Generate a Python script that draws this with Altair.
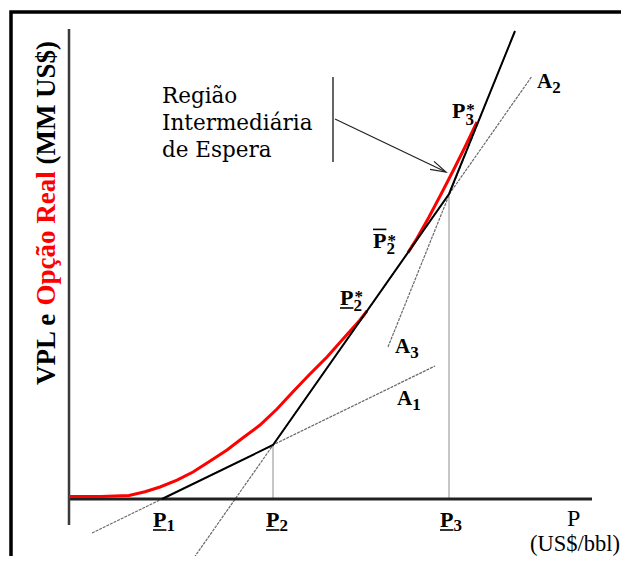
import altair as alt
import pandas as pd

# ---------------- values ----------------
# P = price (US$/bbl, arbitrary units), V = value (MM US$, arbitrary units)

# Real option curve (red) - two visible pieces (it coincides with A2 in between)
opt_low_P = [0, 8, 15, 19, 22.75, 27, 31, 35, 39.5, 43.5, 47.75, 52, 56, 60, 64.5, 68.5, 72.75, 74.5]
opt_low_V = [0.6, 0.6, 0.9, 1.8, 3.0, 4.7, 6.75, 9.3, 12.25, 15.3, 18.5, 22.5, 26.8, 31.0, 35.5, 40.0, 44.75, 47.0]
opt_high_P = [84.75, 87, 90, 93, 96, 99, 102]
opt_high_V = [61.6, 65.2, 70.5, 76.2, 82.0, 88.0, 94.25]

# NPV envelope (black): max of the three alternatives
env_P = [23.25, 51.0, 95.0, 111.5]
env_V = [0.0, 13.5, 76.25, 117.0]

# Alternative NPV lines, full drawn extent (gray)
alt_names = ["A1", "A2", "A3"]
alt_P0 = [5.75, 30.14, 79.75]
alt_V0 = [-8.5, -16.25, 38.0]
alt_P1 = [91.5, 115.6, 111.5]
alt_V1 = [33.25, 105.5, 117.0]

# Threshold verticals (P2, P3)
thr_P = [51.0, 95.0]
thr_V = [13.5, 76.25]

# Axes extents
xaxis_P = [0.0, 130.75]
yaxis_V = [-6.5, 117.5]

# Bold labels: text, P, V, font size
lab_text = ["P", "1", "P", "2", "P", "3",
            "A", "1", "A", "3", "A", "2",
            "P", "3", "*", "P", "2", "*", "P", "2", "*"]
lab_P = [21.0, 24.4, 49.25, 52.65, 92.75, 96.15,
         82.0, 85.8, 81.5, 85.3, 117.0, 120.8,
         95.75, 99.1, 99.3, 76.0, 79.35, 79.6, 67.75, 71.1, 71.35]
lab_V = [-7.0, -8.0, -7.0, -8.0, -7.0, -8.0,
         23.5, 22.25, 36.5, 35.25, 102.75, 101.5,
         95.25, 93.5, 96.1, 62.75, 61.25, 63.25, 48.4, 47.0, 49.25]
lab_size = [22, 17, 22, 17, 22, 17,
            21, 17, 21, 17, 21, 17,
            22, 17, 17, 22, 17, 17, 22, 17, 17]

# Under / over bars of the P labels
bar_P0 = [21.0, 49.25, 92.75, 76.0, 67.75]
bar_P1 = [24.35, 52.6, 96.1, 79.35, 71.1]
bar_V = [-7.75, -7.75, -7.75, 67.4, 47.75]

axis_name = "P"
axis_name_P, axis_name_V = 124.5, -6.75
unit_text = "(US$/bbl)"
unit_P, unit_V = 137.75, -13.0

note_lines = ["Região", "Intermediária", "de Espera"]
note_P = 23.25
note_V = [99.0, 92.25, 85.5]

divider_P = 66.0
divider_V = [105.5, 84.25]
arrow_P = [66.5, 94.25]
arrow_V = [95.0, 81.75]
head_P = [91.25, 94.25, 90.25]
head_V = [84.4, 81.75, 82.4]

ytitle_text = ["VPL e", "Opção Real", "(MM US$)"]
ytitle_color = ["black", "red", "black"]
ytitle_P = -3.5
ytitle_V = [28.5, 48.4, 83.6]

SERIF = "'Liberation Serif', 'Times New Roman', Times, serif"
WIDE_SERIF = "'DejaVu Serif', 'Bitstream Vera Serif', serif"

# ---------------- build tables ----------------
xs = alt.Scale(domain=[-15.25, 138.0], nice=False, zero=False)
ys = alt.Scale(domain=[-14.25, 122.75], nice=False, zero=False)


def X(f="P"):
    return alt.X(f + ":Q", scale=xs, axis=None)


def Y(f="V"):
    return alt.Y(f + ":Q", scale=ys, axis=None)


red_rows = [{"seg": "a", "i": i, "P": p, "V": v} for i, (p, v) in enumerate(zip(opt_low_P, opt_low_V))]
red_rows += [{"seg": "b", "i": i, "P": p, "V": v} for i, (p, v) in enumerate(zip(opt_high_P, opt_high_V))]
red_df = pd.DataFrame(red_rows)

env_df = pd.DataFrame({"i": range(len(env_P)), "P": env_P, "V": env_V})

gray_rows = []
for n, p0, v0, p1, v1 in zip(alt_names, alt_P0, alt_V0, alt_P1, alt_V1):
    gray_rows.append({"seg": n, "i": 0, "P": p0, "V": v0})
    gray_rows.append({"seg": n, "i": 1, "P": p1, "V": v1})
gray_df = pd.DataFrame(gray_rows)

thr_df = pd.DataFrame({"P": thr_P, "V0": [0.0, 0.0], "V1": thr_V})

xaxis_df = pd.DataFrame({"P": [xaxis_P[0]], "P2": [xaxis_P[1]], "V": [0.0]})
yaxis_df = pd.DataFrame({"P": [0.0], "V0": [yaxis_V[0]], "V1": [yaxis_V[1]]})

lab_df = pd.DataFrame({"text": lab_text, "P": lab_P, "V": lab_V, "size": lab_size})
bar_df = pd.DataFrame({"P": bar_P0, "P2": bar_P1, "V": bar_V})
axname_df = pd.DataFrame({"text": [axis_name], "P": [axis_name_P], "V": [axis_name_V]})
unit_df = pd.DataFrame({"text": [unit_text], "P": [unit_P], "V": [unit_V]})
note_df = pd.DataFrame({"text": note_lines, "P": [note_P] * 3, "V": note_V})
div_df = pd.DataFrame({"P": [divider_P], "V0": [divider_V[0]], "V1": [divider_V[1]]})
arrow_rows = [{"seg": "shaft", "i": i, "P": p, "V": v} for i, (p, v) in enumerate(zip(arrow_P, arrow_V))]
arrow_rows += [{"seg": "head", "i": i, "P": p, "V": v} for i, (p, v) in enumerate(zip(head_P, head_V))]
arrow_df = pd.DataFrame(arrow_rows)
yt_df = pd.DataFrame({"text": ytitle_text, "color": ytitle_color, "P": [ytitle_P] * 3, "V": ytitle_V})

# ---------------- layers ----------------
border = alt.Chart(pd.DataFrame({"k": [0]})).mark_rect(
    filled=False, color="black", strokeWidth=3.5
).encode(x=alt.value(3), x2=alt.value(900), y=alt.value(4), y2=alt.value(900))

gray = alt.Chart(gray_df).mark_line(
    color="#6a6a6a", strokeWidth=1.2, strokeDash=[3, 1], clip=True
).encode(x=X(), y=Y(), detail="seg:N", order="i:Q")

thr = alt.Chart(thr_df).mark_rule(color="#8c8c8c", strokeWidth=1).encode(
    x=X(), y=Y("V0"), y2="V1")

xaxis = alt.Chart(xaxis_df).mark_rule(color="#222222", strokeWidth=3).encode(
    x=X(), x2="P2", y=Y())
yaxis = alt.Chart(yaxis_df).mark_rule(color="#3a3a3a", strokeWidth=2.5).encode(
    x=X(), y=Y("V0"), y2="V1")

red = alt.Chart(red_df).mark_line(color="#ff0000", strokeWidth=3).encode(
    x=X(), y=Y(), detail="seg:N", order="i:Q")

env = alt.Chart(env_df).mark_line(color="black", strokeWidth=2).encode(
    x=X(), y=Y(), order="i:Q")

labels = alt.Chart(lab_df).mark_text(
    font=SERIF, fontWeight="bold", align="left", baseline="alphabetic", color="black"
).encode(x=X(), y=Y(), text="text:N", size=alt.Size("size:Q", scale=None))

bars = alt.Chart(bar_df).mark_rule(color="black", strokeWidth=1.6).encode(
    x=X(), x2="P2", y=Y())

axname = alt.Chart(axname_df).mark_text(
    font=SERIF, fontSize=24, align="left", baseline="alphabetic", color="black"
).encode(x=X(), y=Y(), text="text:N")

unit = alt.Chart(unit_df).mark_text(
    font=SERIF, fontSize=22.5, align="right", baseline="alphabetic", color="black"
).encode(x=X(), y=Y(), text="text:N")

note = alt.Chart(note_df).mark_text(
    font=WIDE_SERIF, fontSize=21.5, align="left", baseline="alphabetic", color="black"
).encode(x=X(), y=Y(), text="text:N")

divider = alt.Chart(div_df).mark_rule(color="#333333", strokeWidth=1.5).encode(
    x=X(), y=Y("V0"), y2="V1")

arrow = alt.Chart(arrow_df).mark_line(color="#222222", strokeWidth=1.2).encode(
    x=X(), y=Y(), detail="seg:N", order="i:Q")

ytitle = alt.Chart(yt_df).mark_text(
    font=SERIF, fontSize=27, fontWeight="bold", angle=270,
    align="left", baseline="alphabetic"
).encode(x=X(), y=Y(), text="text:N", color=alt.Color("color:N", scale=None))

chart = alt.layer(
    border, gray, thr, xaxis, yaxis, red, env, divider, arrow,
    labels, bars, axname, unit, note, ytitle
).properties(
    width=613, height=548, padding=0, autosize=alt.AutoSizeParams(type="none"),
    background="white"
).configure_view(strokeWidth=0)

chart.save("out.html", embed_options={"renderer": "svg", "actions": False})
